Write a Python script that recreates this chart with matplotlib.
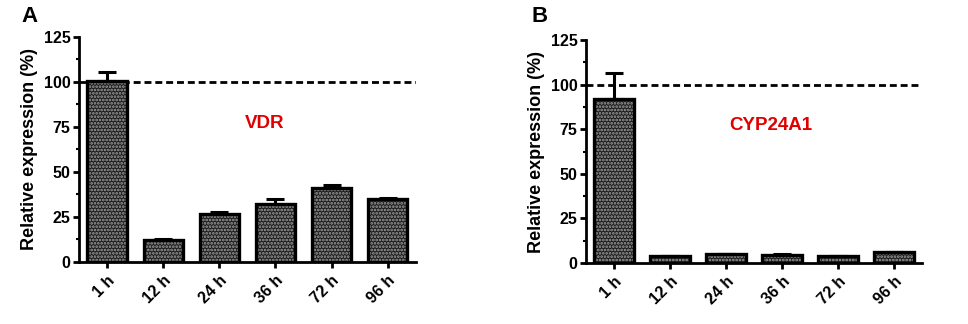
import matplotlib
matplotlib.use("Agg")
import matplotlib.pyplot as plt
import numpy as np
from matplotlib.ticker import MultipleLocator

plt.rcParams['font.family'] = ['Liberation Sans', 'DejaVu Sans']
plt.rcParams['font.weight'] = 'bold'
plt.rcParams['hatch.linewidth'] = 1.3

# time points on the x axis
times = ["1 h", "12 h", "24 h", "36 h", "72 h", "96 h"]

# panel A - VDR
vdr_mean = [100.5, 12.2, 26.7, 32.0, 41.3, 34.8]
vdr_err = [5.0, 0.3, 0.8, 2.8, 1.6, 1.0]

# panel B - CYP24A1
cyp_mean = [91.8, 3.9, 4.9, 4.7, 3.7, 5.9]
cyp_err = [14.5, 0.3, 0.4, 0.4, 0.2, 0.3]

fig = plt.figure(figsize=(9.68, 3.24), dpi=100)
axA = fig.add_axes([0.0816, 0.1914, 0.348, 0.6944])
axB = fig.add_axes([0.6054, 0.1883, 0.347, 0.688])


def draw_panel(ax, mean, err, gene):
    x = np.arange(len(times))
    # patterned fill, then thick black outline on top
    ax.bar(x, mean, width=0.7, color='#1e1e1e', edgecolor='#a0a0a0',
           hatch='.....', linewidth=0, zorder=2)
    ax.bar(x, mean, width=0.7, fill=False, edgecolor='black',
           linewidth=2.4, zorder=3)
    ax.errorbar(x, mean, yerr=[np.zeros(len(err)), err], fmt='none',
                ecolor='black', elinewidth=2.2, capsize=6.5, capthick=2.2,
                zorder=4)
    ax.axhline(100, color='black', lw=2, dashes=(2.5, 1.4), zorder=1)
    ax.set_xlim(-0.5, 5.5)
    ax.set_ylim(0, 125)
    ax.yaxis.set_major_locator(MultipleLocator(25))
    ax.yaxis.set_minor_locator(MultipleLocator(12.5))
    ax.set_xticks(x)
    ax.set_xticklabels(times, rotation=45, ha='right', rotation_mode='anchor',
                       fontsize=11.5, fontweight='bold')
    for lab in ax.get_yticklabels():
        lab.set_fontsize(11.5)
        lab.set_fontweight('bold')
    ax.spines['top'].set_visible(False)
    ax.spines['right'].set_visible(False)
    ax.spines['left'].set_linewidth(2)
    ax.spines['bottom'].set_linewidth(2)
    ax.tick_params(axis='both', which='major', length=4, width=2, pad=2)
    ax.tick_params(axis='x', which='major', pad=4)
    ax.tick_params(axis='y', which='minor', length=2.5, width=1.5)
    ax.set_ylabel("Relative expression (%)", fontsize=13, fontweight='bold',
                  labelpad=4)
    ax.text(2.8, 77, gene, color='#e00000', fontsize=13.5, fontweight='bold',
            ha='center', va='center')


draw_panel(axA, vdr_mean, vdr_err, "VDR")
draw_panel(axB, cyp_mean, cyp_err, "CYP24A1")

fig.text(30 / 968, 1 - 16 / 324, "A", fontsize=16, fontweight='bold',
         ha='center', va='center')
fig.text(540 / 968, 1 - 16 / 324, "B", fontsize=16, fontweight='bold',
         ha='center', va='center')

plt.savefig("out.png", dpi=100)
